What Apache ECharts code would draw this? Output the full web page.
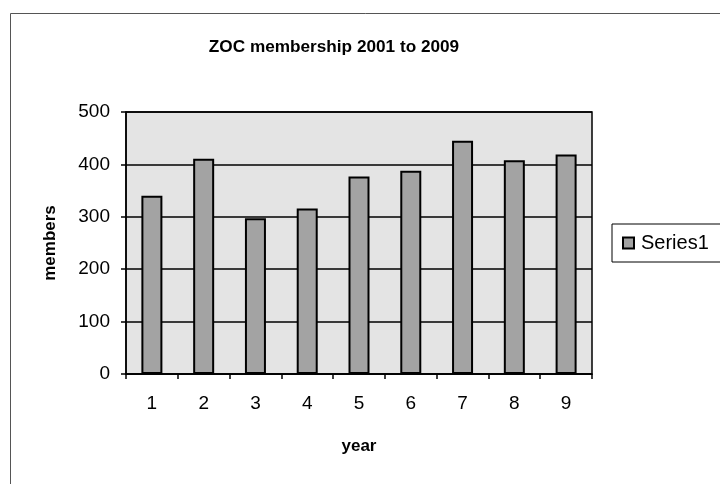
<!DOCTYPE html>
<html>
<head>
<meta charset="utf-8">
<script src="https://cdn.jsdelivr.net/npm/echarts@6/dist/echarts.min.js"></script>
<style>
html,body{margin:0;padding:0;background:#fff;}
#chart{width:720px;height:484px;}
</style>
</head>
<body>
<div id="chart"></div>
<script>
var titleText = 'ZOC membership 2001 to 2009';
var categories = ['1','2','3','4','5','6','7','8','9'];
var members = [340, 411, 297, 316, 377, 388, 445, 408, 419];
var yTicks = [0, 100, 200, 300, 400, 500];
var seriesName = 'Series1';

var chart = echarts.init(document.getElementById('chart'), null, {renderer:'canvas'});
var font = 'Arial, "Liberation Sans", sans-serif';
chart.setOption({
  animation: false,
  backgroundColor: '#ffffff',
  title: {
    text: titleText,
    left: 329, top: 34, textAlign: 'center',
    textStyle: {fontFamily: font, fontWeight: 'bold', fontSize: 17.2, color: '#000'}
  },
  graphic: [{
    type: 'rect', silent: true,
    shape: {x: 10.5, y: 13.5, width: 720, height: 480},
    style: {fill: 'none', stroke: '#555', lineWidth: 1}
  }],
  legend: {
    left: 612, top: 224,
    orient: 'vertical',
    padding: [9, 14, 9, 10],
    borderColor: '#000', borderWidth: 1,
    itemWidth: 11, itemHeight: 11, itemGap: 6,
    icon: 'rect',
    textStyle: {fontFamily: font, fontSize: 20, color: '#000', padding: [0, 0, 0, 2]},
    data: [seriesName]
  },
  grid: {
    left: 126, right: 128, top: 112, bottom: 110,
    show: true, backgroundColor: '#e4e4e4',
    borderColor: '#000', borderWidth: 1.5
  },
  xAxis: {
    type: 'category', data: categories,
    name: 'year', nameLocation: 'middle', nameGap: 64,
    nameTextStyle: {fontFamily: font, fontWeight: 'bold', fontSize: 17, color: '#000'},
    axisLine: {lineStyle: {color: '#000', width: 1.5}},
    axisTick: {show: true, length: 5, lineStyle: {color: '#000', width: 1.5}},
    axisLabel: {fontFamily: font, fontSize: 19, color: '#000', margin: 20}
  },
  yAxis: {
    type: 'value', min: yTicks[0], max: yTicks[yTicks.length-1], interval: yTicks[1]-yTicks[0],
    name: 'members', nameLocation: 'middle', nameGap: 67,
    nameTextStyle: {fontFamily: font, fontWeight: 'bold', fontSize: 17, color: '#000'},
    axisLine: {show: true, lineStyle: {color: '#000', width: 1.5}},
    axisTick: {show: true, length: 5, lineStyle: {color: '#000', width: 1.5}},
    axisLabel: {fontFamily: font, fontSize: 19, color: '#000', margin: 16},
    splitLine: {show: true, lineStyle: {color: '#000', width: 1.5}}
  },
  series: [{
    name: seriesName, type: 'bar', data: members,
    barWidth: 21,
    itemStyle: {color: '#a3a3a3', borderColor: '#000', borderWidth: 2}
  }]
});
</script>
</body>
</html>
